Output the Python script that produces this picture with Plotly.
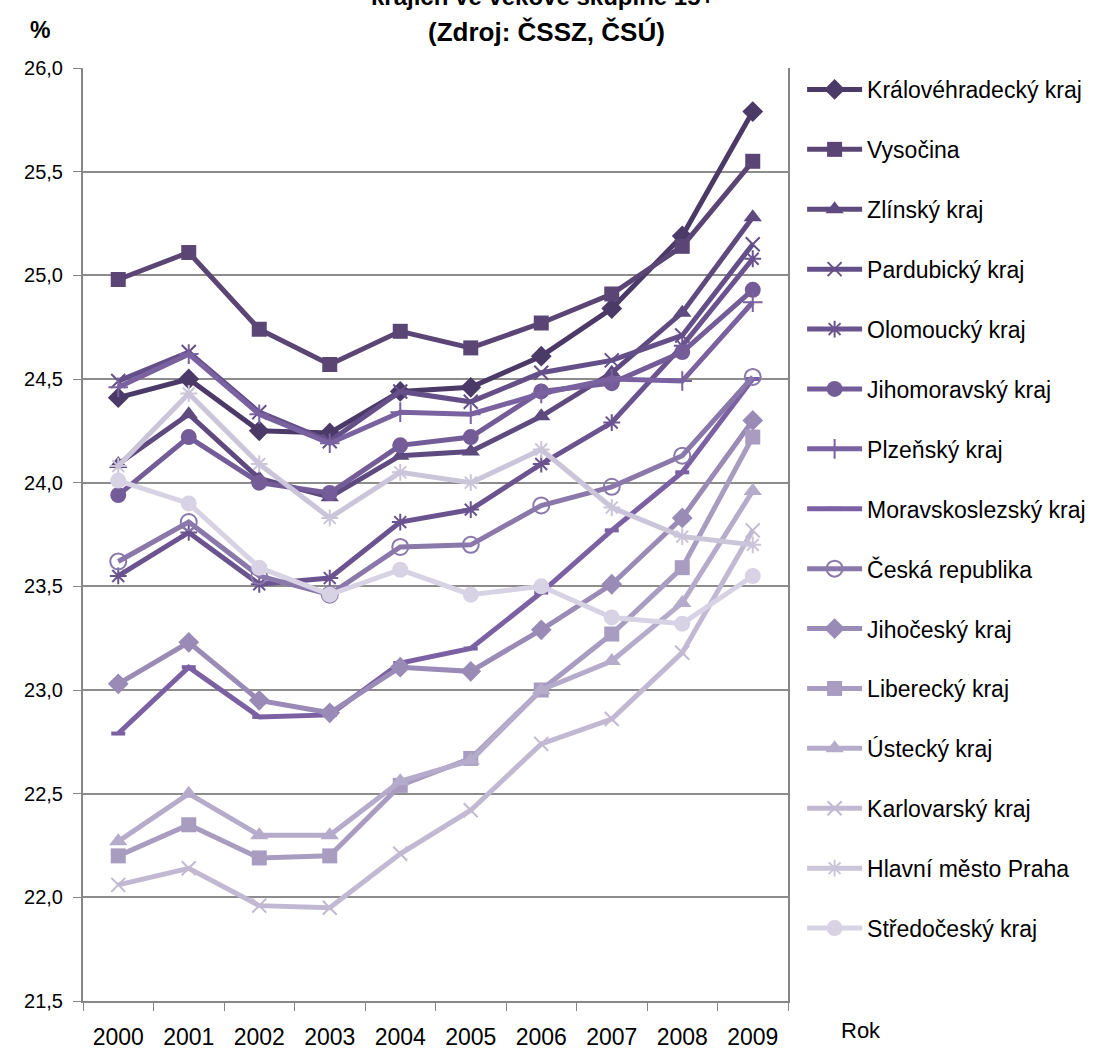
import plotly.graph_objects as go

years = ["2000", "2001", "2002", "2003", "2004", "2005", "2006", "2007", "2008", "2009"]

kralovehradecky = [24.41, 24.50, 24.25, 24.24, 24.44, 24.46, 24.61, 24.84, 25.19, 25.79]
vysocina = [24.98, 25.11, 24.74, 24.57, 24.73, 24.65, 24.77, 24.91, 25.14, 25.55]
zlinsky = [24.09, 24.33, 24.02, 23.93, 24.13, 24.15, 24.32, 24.53, 24.82, 25.28]
pardubicky = [24.49, 24.63, 24.34, 24.20, 24.44, 24.39, 24.53, 24.59, 24.71, 25.15]
olomoucky = [23.55, 23.76, 23.51, 23.54, 23.81, 23.87, 24.09, 24.29, 24.66, 25.08]
jihomoravsky = [23.94, 24.22, 24.00, 23.95, 24.18, 24.22, 24.44, 24.48, 24.63, 24.93]
plzensky = [24.46, 24.62, 24.33, 24.19, 24.34, 24.33, 24.43, 24.50, 24.49, 24.87]
moravskoslezsky = [22.79, 23.11, 22.87, 22.88, 23.13, 23.20, 23.47, 23.77, 24.05, 24.50]
ceska_republika = [23.62, 23.81, 23.55, 23.46, 23.69, 23.70, 23.89, 23.98, 24.13, 24.51]
jihocesky = [23.03, 23.23, 22.95, 22.89, 23.11, 23.09, 23.29, 23.51, 23.83, 24.30]
liberecky = [22.20, 22.35, 22.19, 22.20, 22.54, 22.67, 23.00, 23.27, 23.59, 24.22]
ustecky = [22.27, 22.50, 22.30, 22.30, 22.56, 22.66, 23.00, 23.14, 23.42, 23.96]
karlovarsky = [22.06, 22.14, 21.96, 21.95, 22.21, 22.42, 22.74, 22.86, 23.18, 23.77]
praha = [24.08, 24.43, 24.09, 23.83, 24.05, 24.00, 24.16, 23.88, 23.74, 23.70]
stredocesky = [24.01, 23.90, 23.59, 23.46, 23.58, 23.46, 23.50, 23.35, 23.32, 23.55]

series = [
    ("Královéhradecký kraj", kralovehradecky, "#4b3a68", "diamond", 16, 0),
    ("Vysočina", vysocina, "#5a4575", "square", 15, 0),
    ("Zlínský kraj", zlinsky, "#5f4a80", "triangle-up", 16, 0),
    ("Pardubický kraj", pardubicky, "#654f89", "x-thin-open", 14, 2),
    ("Olomoucký kraj", olomoucky, "#6a538f", "asterisk-open", 14, 2),
    ("Jihomoravský kraj", jihomoravsky, "#735c97", "circle", 16, 0),
    ("Plzeňský kraj", plzensky, "#7a62a0", "cross-thin-open", 14, 2),
    ("Moravskoslezský kraj", moravskoslezsky, "#7b60a3", "line-ew-open", 10, 4),
    ("Česká republika", ceska_republika, "#8a78ab", "circle-open", 16, 2),
    ("Jihočeský kraj", jihocesky, "#9a8bb6", "diamond", 16, 0),
    ("Liberecký kraj", liberecky, "#a89dc0", "square", 15, 0),
    ("Ústecký kraj", ustecky, "#b5abca", "triangle-up", 16, 0),
    ("Karlovarský kraj", karlovarsky, "#c1b8d2", "x-thin-open", 14, 2),
    ("Hlavní město Praha", praha, "#cbc5da", "asterisk-open", 14, 2),
    ("Středočeský kraj", stredocesky, "#d7d3e4", "circle", 16, 0),
]

fig = go.Figure()
for i, (name, vals, color, sym, size, lw) in enumerate(series):
    marker = dict(symbol=sym, size=size, color=color)
    if lw:
        marker["line"] = dict(color=color, width=lw)
    fig.add_trace(go.Scatter(
        x=years, y=vals, name=name, mode="lines+markers",
        line=dict(color=color, width=5),
        marker=marker,
        legendgroup="g%d" % i,
    ))

fig.update_layout(
    width=1101, height=1050,
    margin=dict(l=83, r=313, t=68, b=49, autoexpand=False),
    paper_bgcolor="white", plot_bgcolor="white",
    separators=", ",
    font=dict(family="Liberation Sans, Arial, sans-serif", color="black", size=18),
    showlegend=True,
    legend=dict(
        x=1.02, xanchor="left", y=1.0, yanchor="top",
        font=dict(size=23, color="black"),
        tracegroupgap=27, itemwidth=55,
        bgcolor="rgba(0,0,0,0)",
    ),
    xaxis=dict(
        type="category", tickson="boundaries", ticks="outside", ticklen=8,
        tickcolor="#868686", showline=True, linecolor="#868686", linewidth=2,
        showgrid=False, tickfont=dict(size=23), ticklabelstandoff=14,
        range=[-0.5, 9.5], automargin=False,
    ),
    yaxis=dict(
        range=[21.5, 26.0], dtick=0.5, tick0=21.5, tickformat=".1f",
        ticks="outside", ticklen=8, tickcolor="#868686",
        showline=True, linecolor="#868686", linewidth=2, mirror=True,
        showgrid=True, gridcolor="#8c8c8c", gridwidth=2, zeroline=False,
        tickfont=dict(size=20), ticklabelstandoff=6, automargin=False,
    ),
    annotations=[
        dict(text="<b>krajích ve věkové skupině 15+</b>", xref="paper", yref="paper",
             x=(543 - 83) / 705, y=1 + (68 + 3) / 933, xanchor="center", yanchor="middle",
             showarrow=False, font=dict(size=24)),
        dict(text="<b>(Zdroj: ČSSZ, ČSÚ)</b>", xref="paper", yref="paper",
             x=(546 - 83) / 705, y=1 + (68 - 32) / 933, xanchor="center", yanchor="middle",
             showarrow=False, font=dict(size=26)),
        dict(text="<b>%</b>", xref="paper", yref="paper",
             x=(40 - 83) / 705, y=1 + (68 - 30) / 933, xanchor="center", yanchor="middle",
             showarrow=False, font=dict(size=23)),
        dict(text="Rok", xref="paper", yref="paper",
             x=(861 - 83) / 705, y=-(1030 - 1001) / 933, xanchor="center", yanchor="middle",
             showarrow=False, font=dict(size=22)),
    ],
)

fig.write_html("out.html", config={"displayModeBar": False},
               post_script="document.body.style.margin='0';")
